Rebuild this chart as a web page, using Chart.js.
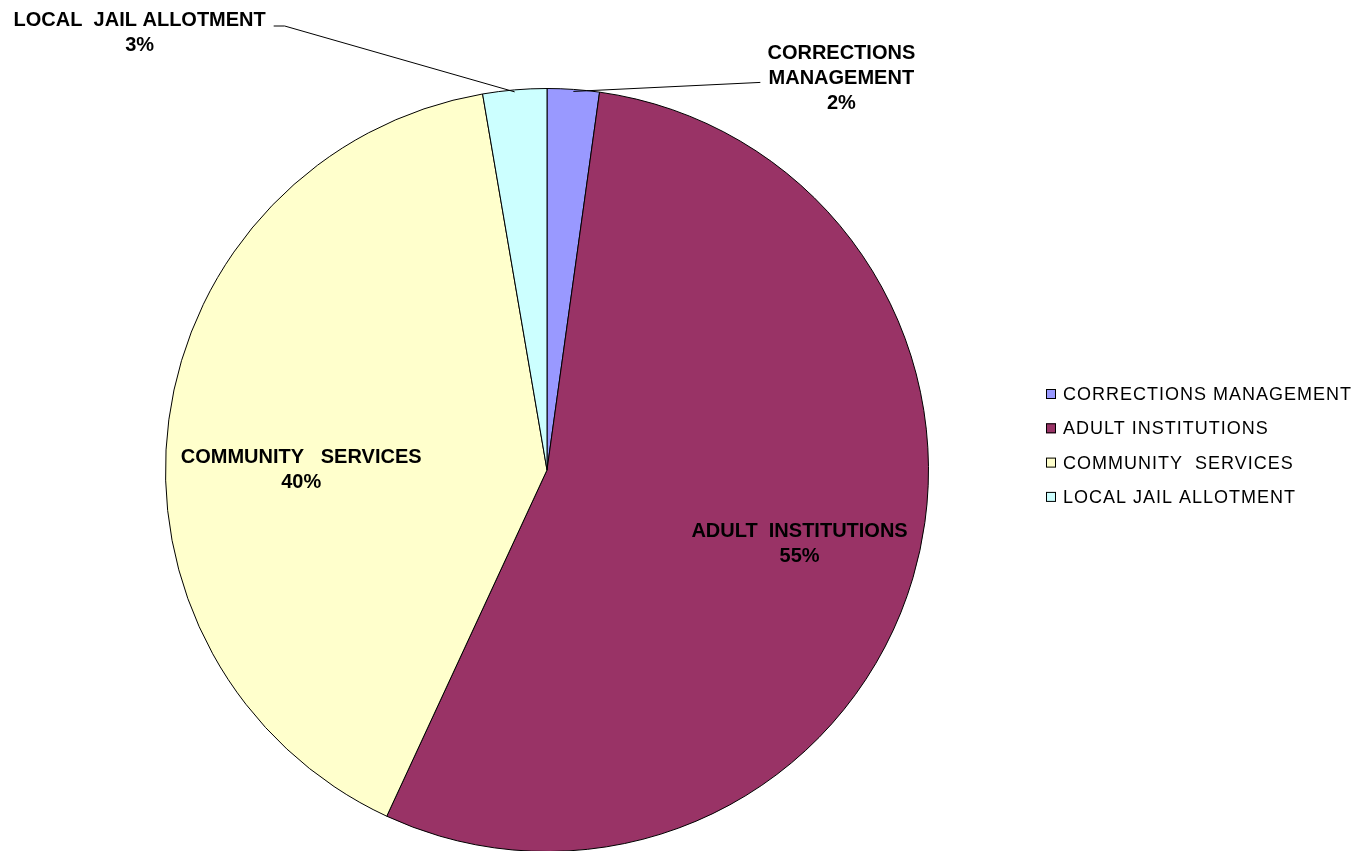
<!DOCTYPE html>
<html>
<head>
<meta charset="utf-8">
<script src="https://cdn.jsdelivr.net/npm/chart.js@4"></script>
<style>
  html, body { margin: 0; padding: 0; background: #fff; overflow: hidden; }
  #wrap { width: 1369px; height: 851px; overflow: hidden; }
</style>
</head>
<body>
<div id="wrap"><canvas id="pie" width="1369" height="870"></canvas></div>
<script>
// budget share by program (percent)
const categories = ['CORRECTIONS MANAGEMENT', 'ADULT INSTITUTIONS', 'COMMUNITY  SERVICES', 'LOCAL JAIL ALLOTMENT'];
const shares = [2.2, 54.7, 40.4, 2.7];
const sliceLabels = [['CORRECTIONS', 'MANAGEMENT'], ['ADULT  INSTITUTIONS'], ['COMMUNITY   SERVICES'], ['LOCAL  JAIL ALLOTMENT']];
const colors = ['#9999FF', '#993366', '#FFFFCC', '#CCFFFF'];

const total = shares.reduce((a, b) => a + b, 0);

// label drawing, roughly like the old office chart
const labelPlugin = {
    id: 'sliceLabels',
    afterDatasetsDraw(chart) {
        const ctx = chart.ctx;
        const meta = chart.getDatasetMeta(0);
        ctx.save();
        ctx.fillStyle = '#000';
        ctx.strokeStyle = '#000';
        ctx.lineWidth = 1;
        ctx.textAlign = 'center';
        ctx.textBaseline = 'middle';
        ctx.font = 'bold 20px "Liberation Sans", Arial, sans-serif';

        meta.data.forEach((arc, i) => {
            const mid = (arc.startAngle + arc.endAngle) / 2;
            const pct = Math.round(shares[i] / total * 100) + '%';
            const lines = sliceLabels[i].concat([pct]);
            let cx, top;
            if (i === 0 || i === 3) {
                // outside label with leader line
                const ax = arc.x + Math.cos(mid) * arc.outerRadius;
                const ay = arc.y + Math.sin(mid) * arc.outerRadius;
                ctx.beginPath();
                if (i === 0) {
                    cx = ax + 268; top = 53;
                    ctx.moveTo(ax, ay + 2);
                    ctx.lineTo(ax + 187, ay - 7);
                } else {
                    cx = ax - 375; top = 20;
                    ctx.moveTo(ax, ay + 2);
                    ctx.lineTo(ax - 230, 26);
                    ctx.lineTo(ax - 241, 26);
                }
                ctx.stroke();
            } else {
                const f = i === 1 ? 0.69 : 0.65;
                const dy = i === 1 ? 0 : 33;
                cx = arc.x + Math.cos(mid) * arc.outerRadius * f;
                const cy = arc.y + Math.sin(mid) * arc.outerRadius * f + dy;
                top = cy - (lines.length - 1) * 25 / 2;
            }
            lines.forEach((t, k) => ctx.fillText(t, cx, top + k * 25));
        });

        // legend
        ctx.font = '18px "Liberation Sans", Arial, sans-serif';
        ctx.letterSpacing = '1px';
        ctx.textAlign = 'left';
        categories.forEach((name, i) => {
            const y = 394 + i * 34.3;
            ctx.fillStyle = colors[i];
            ctx.fillRect(1046, y - 5, 10, 10);
            ctx.strokeStyle = '#000';
            ctx.strokeRect(1046.5, y - 4.5, 9, 9);
            ctx.fillStyle = '#000';
            ctx.fillText(name, 1063, y + 1);
        });
        ctx.restore();
    }
};

new Chart(document.getElementById('pie'), {
    type: 'pie',
    data: {
        labels: categories,
        datasets: [{
            data: shares,
            backgroundColor: colors,
            borderColor: '#000',
            borderWidth: 1
        }]
    },
    options: {
        responsive: false,
        animation: false,
        layout: { padding: { left: 165, right: 440, top: 88, bottom: 18 } },
        plugins: {
            legend: { display: false },
            tooltip: { enabled: false }
        }
    },
    plugins: [labelPlugin]
});
</script>
</body>
</html>
